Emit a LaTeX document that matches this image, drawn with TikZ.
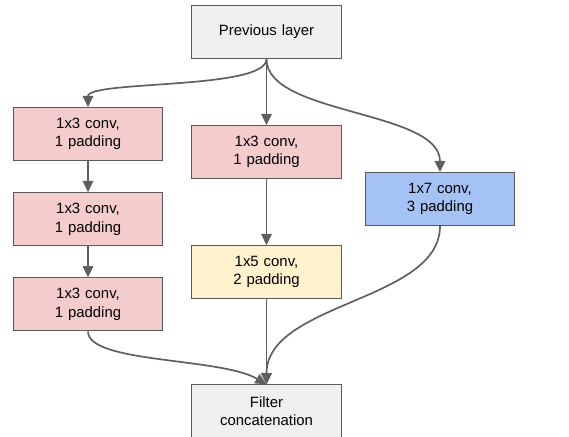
\documentclass[tikz,border=0pt]{standalone}
\usepackage{xcolor}
\usepackage{fontspec}
\setmainfont{Liberation Sans}
\usepackage{tikz}
\usetikzlibrary{arrows.meta, positioning}
\definecolor{edgegray}{HTML}{5A5A5A}
\definecolor{arrowgray}{HTML}{5F5F5F}
\definecolor{boxgray}{HTML}{EFEFEF}
\definecolor{convred}{HTML}{F4CCCC}
\definecolor{convyellow}{HTML}{FFF2CC}
\definecolor{convblue}{HTML}{A4C2F4}

\begin{document}
\begin{tikzpicture}[node distance=1.65cm]
    \tikzstyle{block} = [rectangle, draw=edgegray, line width=0.8pt, minimum width=3.725cm, minimum height=1.325cm, text width=3.5cm, align=center, font=\fontsize{10.6}{13}\selectfont]
    \tikzstyle{link} = [-{Triangle[length=2.8mm, width=2.6mm]}, line width=1.2pt, arrowgray]

    \useasboundingbox (-6.6625,0.8) rectangle (7.5625,-10.1);

    \node (prev) [block, fill=boxgray] at (0,0) {Previous layer};
    \node (mid1) [block, fill=convred, below=of prev] {1x3 conv,\\1 padding};
    \node (mid2) [block, fill=convyellow, below=of mid1] {1x5 conv,\\2 padding};
    \node (concat) [block, fill=boxgray, below=2.125cm of mid2] {Filter\\concatenation};
    \node (left1) [block, fill=convred, below left=1.2cm and 0.7cm of prev] {1x3 conv,\\1 padding};
    \node (left2) [block, fill=convred, below=0.775cm of left1] {1x3 conv,\\1 padding};
    \node (left3) [block, fill=convred, below=0.775cm of left2] {1x3 conv,\\1 padding};
    \node (right1) [block, fill=convblue, below right=2.825cm and 0.575cm of prev] {1x7 conv,\\3 padding};

    \draw [link] (prev.south) .. controls +(0,-0.775) and +(0,0.675) .. (left1.north);
    \draw [link] (prev.south) -- (mid1.north);
    \draw [link] (prev.south) .. controls +(0,-1.4) and +(0,1.55) .. (right1.north);

    \draw [link] (left1.south) -- (left2.north);
    \draw [link] (left2.south) -- (left3.north);
    \draw [link] (mid1.south) -- (mid2.north);

    \draw [link] (left3.south) .. controls +(0,-0.8) and +(-1.15,0.675) .. (concat.north);
    \draw [link] (mid2.south) -- (concat.north);
    \draw [link] (right1.south) .. controls +(0,-1.875) and +(0,2.05) .. (concat.north);
\end{tikzpicture}
\end{document}
